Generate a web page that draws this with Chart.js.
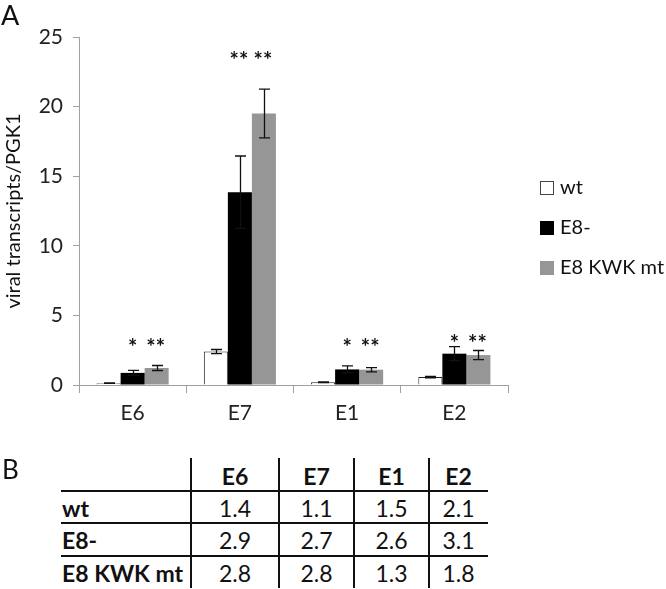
<!DOCTYPE html>
<html>
<head>
<meta charset="utf-8">
<script src="https://cdn.jsdelivr.net/npm/chart.js@4.4.1/dist/chart.umd.min.js"></script>
<style>
  html, body { margin: 0; padding: 0; background: #fff; }
  body { width: 666px; height: 589px; position: relative; overflow: hidden; font-family: Lato, "Open Sans", sans-serif; color: #111; }
  #c { position: absolute; left: 0; top: 0; }
  .abs { position: absolute; }
  .panel { font-size: 27px; line-height: 1; }
  .hl { position: absolute; height: 2px; background: #111; }
  .vl { position: absolute; width: 2px; background: #111; }
  .cell { position: absolute; font-size: 23px; line-height: 26px; height: 26px; white-space: nowrap; }
</style>
</head>
<body>
<canvas id="c" width="666" height="440"></canvas>
<div class="abs panel" style="left:1px; top:1px;">A</div>
<div class="abs panel" style="left:2px; top:456px; font-size:26px;">B</div>
<div id="tbl"></div>
<script>
// ---- data ----
const categories = ["E6", "E7", "E1", "E2"];
const seriesNames = ["wt", "E8-", "E8 KWK mt"];
const wtValues   = [0.13, 2.40, 0.20, 0.57];
const e8Values   = [0.87, 13.85, 1.12, 2.25];
const kwkValues  = [1.22, 19.50, 1.10, 2.15];
const wtErrors   = [0.02, 0.15, 0.03, 0.05];
const e8Errors   = [0.18, 2.60, 0.25, 0.50];
const kwkErrors  = [0.18, 1.75, 0.15, 0.33];
const e8Sig      = ["*", "**", "*", "*"];
const kwkSig     = ["**", "**", "**", "**"];
const sigLevels  = [3.1, 23.7, 3.1, 3.4];
const yTicks     = [0, 5, 10, 15, 20, 25];

// table (panel B)
const tableCols  = ["E6", "E7", "E1", "E2"];
const tableRows  = ["wt", "E8-", "E8 KWK mt"];
const tableWt    = ["1.4", "1.1", "1.5", "2.1"];
const tableE8    = ["2.9", "2.7", "2.6", "3.1"];
const tableKwk   = ["2.8", "2.8", "1.3", "1.8"];

const errorSets = [wtErrors, e8Errors, kwkErrors];
const sigSets = [null, e8Sig, kwkSig];

const FONT = "Lato, 'Open Sans', sans-serif";

const errorBarPlugin = {
  id: 'errorBars',
  afterDatasetsDraw(chart) {
    const ctx = chart.ctx;
    const y = chart.scales.y;
    ctx.save();
    ctx.strokeStyle = '#111';
    ctx.lineWidth = 1.3;
    chart.data.datasets.forEach((ds, di) => {
      const meta = chart.getDatasetMeta(di);
      meta.data.forEach((bar, i) => {
        const v = ds.data[i], e = errorSets[di][i];
        const x = Math.round(bar.x) + 0.5;
        const yt = y.getPixelForValue(v + e);
        const yb = y.getPixelForValue(v - e);
        const cap = 5.5;
        ctx.beginPath();
        ctx.moveTo(x, yt); ctx.lineTo(x, yb);
        ctx.moveTo(x - cap, yt); ctx.lineTo(x + cap, yt);
        ctx.moveTo(x - cap, yb); ctx.lineTo(x + cap, yb);
        ctx.stroke();
      });
    });
    // significance stars
    ctx.fillStyle = '#111';
    ctx.font = "bold 22px " + FONT;
    ctx.textAlign = 'center';
    ctx.textBaseline = 'middle';
    chart.data.datasets.forEach((ds, di) => {
      const s = sigSets[di];
      if (!s) return;
      const meta = chart.getDatasetMeta(di);
      meta.data.forEach((bar, i) => {
        ctx.fillText(s[i], bar.x - (s[i].length > 1 ? 1 : 0), y.getPixelForValue(sigLevels[i]) + 6);
      });
    });
    ctx.restore();
  }
};

const legendPlugin = {
  id: 'sideLegend',
  afterDraw(chart) {
    const ctx = chart.ctx;
    ctx.save();
    ctx.font = "20px " + FONT;
    ctx.textBaseline = 'middle';
    ctx.textAlign = 'left';
    chart.data.datasets.forEach((ds, i) => {
      const cy = 188 + i * 40;
      ctx.fillStyle = ds.backgroundColor;
      ctx.fillRect(540, cy - 7, 14, 14);
      if (ds.borderWidth) {
        ctx.strokeStyle = '#444';
        ctx.lineWidth = 1;
        ctx.strokeRect(540.5, cy - 6.5, 13, 13);
      }
      ctx.fillStyle = '#111';
      ctx.fillText(ds.label, 560, cy);
    });
    ctx.restore();
  }
};

new Chart(document.getElementById('c'), {
  type: 'bar',
  data: {
    labels: categories,
    datasets: [
      { label: seriesNames[0], data: wtValues, backgroundColor: '#ffffff', borderColor: '#222', borderWidth: 1 },
      { label: seriesNames[1], data: e8Values, backgroundColor: '#000000', borderWidth: 0 },
      { label: seriesNames[2], data: kwkValues, backgroundColor: '#969696', borderWidth: 0 }
    ]
  },
  options: {
    responsive: false,
    animation: false,
    events: [],
    categoryPercentage: 0.672,
    barPercentage: 1.0,
    layout: { padding: { left: 0, right: 158, top: 37, bottom: 0 } },
    plugins: { legend: { display: false }, tooltip: { enabled: false } },
    scales: {
      x: {
        grid: { offset: true, drawOnChartArea: false, drawTicks: true, tickLength: 8, color: '#a0a0a0', lineWidth: 1 },
        border: { color: '#a0a0a0', width: 1 },
        ticks: { color: '#222', font: { family: FONT, size: 21 }, padding: 8 },
        afterFit(s) { s.height = 55; }
      },
      y: {
        min: 0, max: 25,
        afterBuildTicks(s) { s.ticks = yTicks.map(v => ({ value: v })); },
        grid: { drawOnChartArea: false, drawTicks: true, tickLength: 6, color: '#a0a0a0' },
        border: { color: '#a0a0a0', width: 1 },
        ticks: { color: '#222', font: { family: FONT, size: 21 }, padding: 10 },
        title: { display: true, text: 'viral transcripts/PGK1', color: '#111', font: { family: FONT, size: 20 }, padding: { top: 2, bottom: 0 } },
        afterFit(s) { s.width = 79; }
      }
    }
  },
  plugins: [errorBarPlugin, legendPlugin]
});

// ---- table ----
(function buildTable() {
  const tbl = document.getElementById('tbl');
  const colX = [191, 279, 354, 429, 488];   // column boundaries
  const rowY = [476, 508, 540, 572.5];      // row centers
  const add = (cls, style, text) => {
    const d = document.createElement('div');
    d.className = cls; d.setAttribute('style', style);
    if (text !== undefined) d.textContent = text;
    tbl.appendChild(d);
  };
  [490, 522, 555].forEach(y => add('hl', `left:61px; width:427px; top:${y}px;`));
  colX.slice(0, 4).forEach(x => add('vl', `left:${x - 1}px; top:458px; height:130px;`));
  const values = [tableWt, tableE8, tableKwk];
  tableCols.forEach((c, j) => {
    const cx = (colX[j] + colX[j + 1]) / 2;
    add('cell', `left:${cx - 40}px; width:80px; text-align:center; top:${rowY[0] - 13}px; font-weight:bold;`, c);
  });
  tableRows.forEach((r, i) => {
    add('cell', `left:62px; top:${rowY[i + 1] - 13}px; font-weight:bold;`, r);
    values[i].forEach((v, j) => {
      const cx = (colX[j] + colX[j + 1]) / 2;
      add('cell', `left:${cx - 40}px; width:80px; text-align:center; top:${rowY[i + 1] - 13}px;`, v);
    });
  });
})();
</script>
</body>
</html>
